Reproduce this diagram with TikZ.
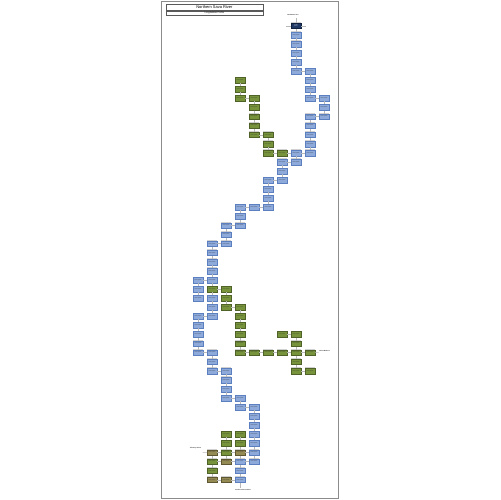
\documentclass[tikz,border=0pt]{standalone}
\usepackage{fontspec}
\setmainfont{Liberation Sans}
\definecolor{bfill}{HTML}{8EAADB}
\definecolor{bdraw}{HTML}{5B7FBF}
\definecolor{gfill}{HTML}{77933C}
\definecolor{gdraw}{HTML}{4F6228}
\definecolor{tfill}{HTML}{948A54}
\definecolor{tdraw}{HTML}{5E5732}
\definecolor{dfill}{HTML}{1F3864}
\definecolor{ddraw}{HTML}{10203F}
\definecolor{lin}{HTML}{B8B8B8}
\tikzset{
  box/.style={minimum width=9.5bp, minimum height=5.7bp, inner sep=0pt, line width=0.35bp,
    font=\fontsize{1.2}{1.4}\selectfont, align=center, text=black!85,
    preaction={draw=black!18, line width=1.3bp}},
  bl/.style={box, fill=bfill, draw=bdraw},
  gr/.style={box, fill=gfill, draw=gdraw},
  tn/.style={box, fill=tfill, draw=tdraw},
  dk/.style={box, fill=dfill, draw=ddraw, text=white},
  conn/.style={draw=lin, line width=0.5bp},
  lab/.style={font=\bfseries\fontsize{1.5}{1.7}\selectfont, inner sep=0pt, text=black!85},
}
\newcommand\nb[4]{\node[#3] (n#1-#2) at ({198+14*#1},{25.8+9.08*#2}) {#4};}
\begin{document}
\begin{tikzpicture}[x=1bp,y=-1bp]
\useasboundingbox (0,0) rectangle (500,500);
\fill[white] (0,0) rectangle (500,500);
% page frame
\draw[black!45, line width=0.6bp] (161,1.2) rectangle (337.8,498);
% title
\node[draw=black!65, line width=0.5bp, minimum width=97bp, minimum height=6.5bp, inner sep=0pt,
  font=\fontsize{4}{4.5}\selectfont] (t1) at (214.4,7.35) {Northern Sava River};
\node[draw=black!65, line width=0.5bp, minimum width=97bp, minimum height=3.8bp, inner sep=0pt,
  font=\fontsize{2.3}{2.6}\selectfont, anchor=north] (t2) at (t1.south) {Longitudinal Profile};
% nodes
\nb{7}{0}{dk}{Lorem\\Ipsum}
\foreach \r in {1,...,5} {\nb{7}{\r}{bl}{Lorem Ipsum}}
\foreach \r in {14,15} {\nb{7}{\r}{bl}{Lorem Ipsum}}
\foreach \r in {34,...,38} {\nb{7}{\r}{gr}{Lorem Ipsum}}
\foreach \r in {5,...,8,10,11,12,13,14} {\nb{8}{\r}{bl}{Lorem Ipsum}}
\foreach \r in {36,38} {\nb{8}{\r}{gr}{Lorem Ipsum}}
\foreach \r in {8,9,10} {\nb{9}{\r}{bl}{Lorem Ipsum}}
\nb{6}{14}{gr}{Lorem Ipsum}
\foreach \r in {15,16,17} {\nb{6}{\r}{bl}{Lorem Ipsum}}
\foreach \r in {34,36} {\nb{6}{\r}{gr}{Lorem Ipsum}}
\foreach \r in {12,13,14,36} {\nb{5}{\r}{gr}{Lorem Ipsum}}
\foreach \r in {17,...,20} {\nb{5}{\r}{bl}{Lorem Ipsum}}
\foreach \r in {8,...,12,36} {\nb{4}{\r}{gr}{Lorem Ipsum}}
\foreach \r in {20,42,43,44,45,46,47,48} {\nb{4}{\r}{bl}{Lorem Ipsum}}
\foreach \r in {6,7,8,31,32,33,34,35,36,45,46} {\nb{3}{\r}{gr}{Lorem Ipsum}}
\foreach \r in {20,21,22,41,42,48,49,50} {\nb{3}{\r}{bl}{Lorem Ipsum}}
\nb{3}{47}{tn}{Lorem Ipsum}
\foreach \r in {22,23,24,38,39,40,41} {\nb{2}{\r}{bl}{Lorem Ipsum}}
\foreach \r in {29,30,31,45,46,47} {\nb{2}{\r}{gr}{Lorem Ipsum}}
\foreach \r in {48,50} {\nb{2}{\r}{tn}{Lorem Ipsum}}
\foreach \r in {24,...,28,30,31,32,36,37,38} {\nb{1}{\r}{bl}{Lorem Ipsum}}
\foreach \r in {29,48,49} {\nb{1}{\r}{gr}{Lorem Ipsum}}
\foreach \r in {47,50} {\nb{1}{\r}{tn}{Lorem Ipsum}}
\foreach \r in {28,29,30,32,33,34,35,36} {\nb{0}{\r}{bl}{Lorem Ipsum}}
% vertical connectors
\foreach \c/\a/\b in {7/0/1,7/1/2,7/2/3,7/3/4,7/4/5,7/14/15,7/34/35,7/35/36,7/36/37,7/37/38,
  8/5/6,8/6/7,8/7/8,8/10/11,8/11/12,8/12/13,8/13/14,9/8/9,9/9/10,
  6/15/16,6/16/17,5/12/13,5/13/14,5/17/18,5/18/19,5/19/20,
  4/8/9,4/9/10,4/10/11,4/11/12,4/42/43,4/43/44,4/44/45,4/45/46,4/46/47,4/47/48,
  3/6/7,3/7/8,3/20/21,3/21/22,3/31/32,3/32/33,3/33/34,3/34/35,3/35/36,3/41/42,
  3/45/46,3/46/47,3/47/48,3/48/49,3/49/50,
  2/22/23,2/23/24,2/29/30,2/30/31,2/38/39,2/39/40,2/40/41,2/45/46,2/46/47,2/47/48,
  1/24/25,1/25/26,1/26/27,1/27/28,1/28/29,1/29/30,1/30/31,1/31/32,1/36/37,1/37/38,
  1/47/48,1/48/49,1/49/50,
  0/28/29,0/29/30,0/32/33,0/33/34,0/34/35,0/35/36}
  {\draw[conn] (n\c-\a) -- (n\c-\b);}
% horizontal connectors
\foreach \r/\a/\b in {5/7/8,8/3/4,8/8/9,10/8/9,12/4/5,14/5/6,14/6/7,14/7/8,15/6/7,17/5/6,
  20/3/4,20/4/5,22/2/3,24/1/2,28/0/1,29/1/2,31/2/3,32/0/1,34/6/7,
  36/0/1,36/3/4,36/4/5,36/5/6,36/6/7,36/7/8,38/1/2,38/7/8,41/2/3,42/3/4,
  47/1/2,47/2/3,47/3/4,48/1/2,48/2/3,48/3/4,50/1/2,50/2/3}
  {\draw[conn] (n\a-\r) -- (n\b-\r);}
% inflow / outflow markers and labels
\coordinate (inL) at (286.3,25.8);
\coordinate (inR) at (305.7,25.8);
\draw[conn] (inL) -- (n7-0);
\draw[conn] (n7-0) -- (inR);
\node[lab] (ltop) at (293,15.4) {Headwaters Arc};
\coordinate (ctop) at (296,17.8);
\draw[conn] (ctop) -- (n7-0);
\node[lab, anchor=west] (lright) at (319.2,351.2) {Inflow Balance};
\coordinate (cright) at (318.5,352.7);
\draw[conn] (n8-36) -- (cright);
\node[lab] (lleft) at (195.4,448.2) {Tributary Inflow};
\coordinate (cleft) at (202.5,452.6);
\draw[conn] (cleft) -- (n1-47);
\node[lab] (lbot) at (243,490.2) {Southern Sava Outlet};
\coordinate (cbot) at (240,488.2);
\draw[conn] (n3-50) -- (cbot);
\end{tikzpicture}
\end{document}
